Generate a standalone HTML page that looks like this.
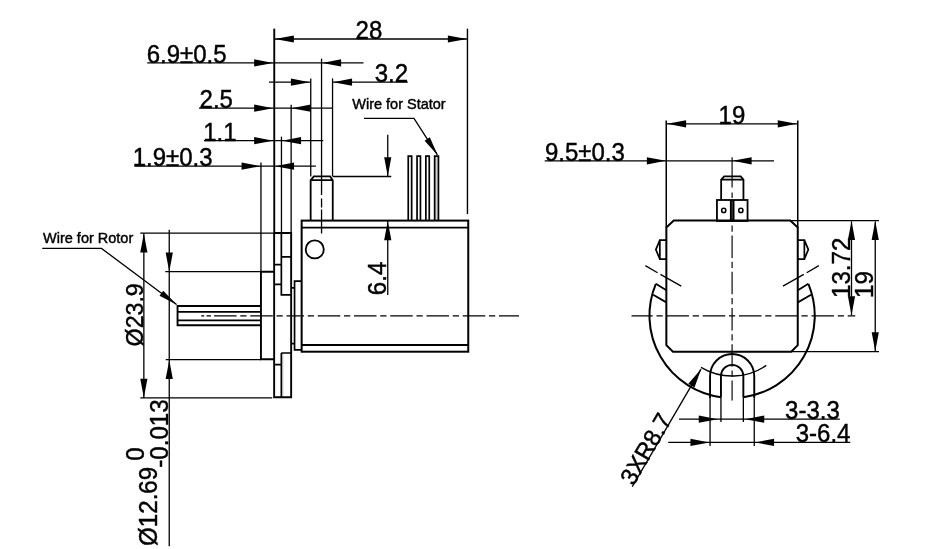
<!DOCTYPE html>
<html><head><meta charset="utf-8"><title>drawing</title>
<style>
html,body{margin:0;padding:0;background:#fff;}
svg{display:block;filter:grayscale(1);}
text{font-family:"Liberation Sans",sans-serif;fill:#000;stroke:#000;stroke-width:0.42px;}
</style></head><body>
<svg width="927" height="549" viewBox="0 0 927 549" stroke="#000" fill="none">
<rect x="0" y="0" width="927" height="549" fill="#fff" stroke="none"/>
<g transform="translate(0.25 0.4)">
<line x1="274" y1="28.25" x2="274" y2="232.6" stroke-width="1.9" />
<line x1="467.2" y1="28.25" x2="467.2" y2="213.75" stroke-width="1.4" />
<line x1="274" y1="38.6" x2="467" y2="38.6" stroke-width="1.3" />
<polygon points="274.60,38.60 293.60,35.00 293.60,42.20" fill="#000" stroke="none"/>
<polygon points="466.60,38.60 447.60,42.20 447.60,35.00" fill="#000" stroke="none"/>
<text x="0" y="0" font-size="24.0" transform="translate(355.3 38.6) scale(1.0 1.04)" >28</text>
<line x1="147" y1="62.5" x2="363.25" y2="62.5" stroke-width="1.3" />
<polygon points="272.90,62.50 253.90,66.10 253.90,58.90" fill="#000" stroke="none"/>
<polygon points="321.90,62.50 340.90,58.90 340.90,66.10" fill="#000" stroke="none"/>
<text x="0" y="0" font-size="24.0" transform="translate(146.5 62.5) scale(1.0 1.04)" >6.9±0.5</text>
<line x1="321.3" y1="58.25" x2="321.3" y2="176" stroke-width="1.3" />
<line x1="268.75" y1="81.75" x2="310.5" y2="81.75" stroke-width="1.3" />
<polygon points="309.60,81.75 290.60,85.35 290.60,78.15" fill="#000" stroke="none"/>
<line x1="332.5" y1="81.75" x2="407.5" y2="81.75" stroke-width="1.3" />
<polygon points="332.80,81.75 351.80,78.15 351.80,85.35" fill="#000" stroke="none"/>
<text x="0" y="0" font-size="24.0" transform="translate(374.5 81.8) scale(1.0 1.04)" >3.2</text>
<line x1="310.5" y1="78" x2="310.5" y2="176" stroke-width="1.3" />
<line x1="332.3" y1="78" x2="332.3" y2="176" stroke-width="1.3" />
<line x1="198.75" y1="107.75" x2="332.3" y2="107.75" stroke-width="1.3" />
<polygon points="272.90,107.75 253.90,111.35 253.90,104.15" fill="#000" stroke="none"/>
<polygon points="291.40,107.75 310.40,104.15 310.40,111.35" fill="#000" stroke="none"/>
<text x="0" y="0" font-size="24.0" transform="translate(199.3 107.8) scale(1.0 1.04)" >2.5</text>
<line x1="290.9" y1="104.25" x2="290.9" y2="232.6" stroke-width="1.3" />
<line x1="203.75" y1="140.25" x2="323" y2="140.25" stroke-width="1.3" />
<polygon points="272.90,140.25 253.90,143.85 253.90,136.65" fill="#000" stroke="none"/>
<polygon points="281.80,140.25 300.80,136.65 300.80,143.85" fill="#000" stroke="none"/>
<text x="0" y="0" font-size="24.0" transform="translate(203 140.2) scale(1.0 1.04)" >1.1</text>
<line x1="281.2" y1="136.25" x2="281.2" y2="232.6" stroke-width="1.3" />
<line x1="134.25" y1="165.75" x2="315.6" y2="165.75" stroke-width="1.3" />
<polygon points="260.30,165.75 241.30,169.35 241.30,162.15" fill="#000" stroke="none"/>
<polygon points="274.80,165.75 293.80,162.15 293.80,169.35" fill="#000" stroke="none"/>
<text x="0" y="0" font-size="24.0" transform="translate(132.5 165.8) scale(1.0 1.04)" >1.9±0.3</text>
<line x1="260.7" y1="162" x2="260.7" y2="271.3" stroke-width="1.3" />
<text x="0" y="0" font-size="14.5" transform="translate(352 109.0) scale(1.0 1.04)"  stroke-width="0.12">Wire for Stator</text>
<path d="M363.75,118 H413.75 L437.2,154.5" stroke-width="1.3" fill="none" />
<polygon points="437.40,154.80 424.36,140.23 429.58,136.88" fill="#000" stroke="none"/>
<line x1="387.5" y1="134.4" x2="387.5" y2="175.5" stroke-width="1.3" />
<polygon points="387.50,175.80 383.90,156.80 391.10,156.80" fill="#000" stroke="none"/>
<line x1="332.5" y1="176.1" x2="391" y2="176.1" stroke-width="1.3" />
<line x1="387.5" y1="220.5" x2="387.5" y2="294.5" stroke-width="1.3" />
<polygon points="387.50,220.80 391.10,239.80 383.90,239.80" fill="#000" stroke="none"/>
<text x="0" y="0" font-size="24.1" transform="translate(386 294.8) rotate(-90) scale(1.0 1.04)" >6.4</text>
<path d="M310.4,220 V179.8 L313.6,176 H329.9 L332.5,179.8 V220 M310.4,179.8 H332.5" stroke-width="1.8" fill="none" />
<line x1="321.3" y1="176" x2="321.3" y2="233" stroke-width="1.3" stroke-dasharray="18.5 3.5 9 2 0 0 30"/>
<path d="M408.0,220 V155.7 H411.4 V220" stroke-width="1.7" fill="none" />
<path d="M416.8,220 V155.7 H420.2 V220" stroke-width="1.7" fill="none" />
<path d="M425.6,220 V155.7 H429.0 V220" stroke-width="1.7" fill="none" />
<path d="M434.4,220 V155.7 H438.2 V220" stroke-width="1.7"  fill="#d4d4d4"/>
<rect x="301.4" y="220.2" width="166.6" height="131.1" fill="none" stroke-width="2.0"/>
<line x1="301.4" y1="227.2" x2="468" y2="227.2" stroke-width="1.8" />
<line x1="301.4" y1="344.6" x2="468" y2="344.6" stroke-width="1.8" />
<circle cx="314.5" cy="249" r="9.05" fill="none" stroke-width="1.8"/>
<path d="M273.9,271.3 H260.7 V358.9 H273.9" stroke-width="1.9" fill="none" />
<line x1="165" y1="271.3" x2="260.7" y2="271.3" stroke-width="1.3" />
<line x1="165.5" y1="359.2" x2="260.7" y2="359.2" stroke-width="1.3" />
<path d="M273.9,232.6 H290.9 V396.8 H273.9 V232.6" stroke-width="1.9" fill="none" />
<line x1="140" y1="232.8" x2="273.9" y2="232.8" stroke-width="1.3" />
<line x1="140" y1="397.5" x2="272" y2="397.5" stroke-width="1.3" />
<path d="M281.1,232.6 V294.5 H290.9 M281.1,352.6 V396.8 M281.1,352.6 H290.9" stroke-width="1.7" fill="none" />
<path d="M273.9,264.3 H281.1 M273.9,284 H281.1 M273.9,364.2 H281.1 M281.1,256.5 H290.9" stroke-width="1.7" fill="none" />
<line x1="282.6" y1="354" x2="282.6" y2="396" stroke-width="0.8" stroke-dasharray="1 1" stroke="#666"/>
<path d="M290.9,287.5 H294.3 M290.9,343.2 H294.3 M301.4,280.7 H294.3 V349.5 H301.4" stroke-width="1.7" fill="none" />
<path d="M260.7,305.6 H177.3 V324.8 H260.7" stroke-width="1.9" fill="none" />
<line x1="177.3" y1="311.4" x2="260.7" y2="311.4" stroke-width="1.8" />
<line x1="177.3" y1="319.9" x2="260.7" y2="319.9" stroke-width="1.8" />
<line x1="201" y1="315.4" x2="300" y2="315.4" stroke-width="1.15" stroke-dasharray="3 2.3 4.5 3 22.5 3.75 6.25 3.75 22.5 3.75 6.25 3.75 22.5 3.75 6.25 3.75"/>
<line x1="300" y1="315.4" x2="518.75" y2="315.4" stroke-width="1.15" stroke-dasharray="22.5 3.75 6.25 3.75" stroke-dashoffset="18.75"/>
<line x1="143.6" y1="233" x2="143.6" y2="397.5" stroke-width="1.3" />
<polygon points="143.60,233.00 147.20,252.00 140.00,252.00" fill="#000" stroke="none"/>
<polygon points="143.60,397.30 140.00,378.30 147.20,378.30" fill="#000" stroke="none"/>
<text x="0" y="0" font-size="23.2" transform="translate(142.3 346) rotate(-90) scale(1.0 1.04)" >Ø23.9</text>
<line x1="169" y1="229.25" x2="169" y2="545.75" stroke-width="1.3" />
<polygon points="169.00,271.00 165.40,252.00 172.60,252.00" fill="#000" stroke="none"/>
<polygon points="169.00,359.50 172.60,378.50 165.40,378.50" fill="#000" stroke="none"/>
<text x="0" y="0" font-size="24.1" transform="translate(156.3 545.5) rotate(-90) scale(1.0 1.04)" >Ø12.69</text>
<text x="0" y="0" font-size="24.1" transform="translate(143.8 460.4) rotate(-90) scale(1.0 1.04)" >0</text>
<text x="0" y="0" font-size="24.1" transform="translate(168 467.3) rotate(-90) scale(1.0 1.04)" >-0.013</text>
<text x="0" y="0" font-size="14.5" transform="translate(42.8 242.3) scale(1.0 1.04)"  stroke-width="0.12">Wire for Rotor</text>
<path d="M42,248 H101.25 L176.3,304.2" stroke-width="1.3" fill="none" />
<polygon points="176.60,304.40 159.29,295.32 163.00,290.36" fill="#000" stroke="none"/>
<line x1="666" y1="120" x2="666" y2="227" stroke-width="1.5" />
<line x1="797.5" y1="120" x2="797.5" y2="227" stroke-width="1.5" />
<line x1="666" y1="123.4" x2="797.5" y2="123.4" stroke-width="1.3" />
<polygon points="666.90,123.40 685.90,119.80 685.90,127.00" fill="#000" stroke="none"/>
<polygon points="796.50,123.40 777.50,127.00 777.50,119.80" fill="#000" stroke="none"/>
<text x="0" y="0" font-size="24.0" transform="translate(718.3 123.5) scale(1.0 1.04)" >19</text>
<line x1="544.5" y1="160.4" x2="773.75" y2="160.4" stroke-width="1.3" />
<polygon points="665.60,160.40 646.60,164.00 646.60,156.80" fill="#000" stroke="none"/>
<polygon points="732.40,160.40 751.40,156.80 751.40,164.00" fill="#000" stroke="none"/>
<text x="0" y="0" font-size="24.0" transform="translate(544.7 160.4) scale(1.0 1.04)" >9.5±0.3</text>
<line x1="731.85" y1="156.75" x2="731.85" y2="187" stroke-width="1.15" />
<line x1="731.85" y1="192" x2="731.85" y2="197.5" stroke-width="1.15" />
<line x1="731.85" y1="199.6" x2="731.85" y2="400" stroke-width="1.15" stroke-dasharray="22.5 3.75 6.25 3.75" stroke-dashoffset="0.85"/>
<line x1="631.3" y1="315.4" x2="855" y2="315.4" stroke-width="1.15" stroke-dasharray="22.5 3.75 6.25 3.75" stroke-dashoffset="1.325"/>
<path d="M720.9,199.6 V179.3 L724,176 H740.4 L743.2,179.3 V199.6 M720.9,179.3 H743.2" stroke-width="1.8" fill="none" />
<rect x="716.7" y="199.6" width="30.6" height="21" fill="none" stroke-width="1.8"/>
<line x1="730.6" y1="199.6" x2="730.6" y2="221" stroke-width="1.9" />
<line x1="733.3" y1="199.6" x2="733.3" y2="221" stroke-width="1.9" />
<circle cx="723.5" cy="210" r="2.1" fill="none" stroke-width="1.5"/>
<circle cx="740.6" cy="210" r="2.1" fill="none" stroke-width="1.5"/>
<path d="M666.1,227 L673.5,220.2 H790 L797.5,227 V344.8 L791,351.4 H672.7 L666.1,344.8 Z" stroke-width="2.0" fill="none" />
<line x1="790" y1="220.2" x2="878.75" y2="220.2" stroke-width="1.3" />
<line x1="791" y1="351.3" x2="878.75" y2="351.3" stroke-width="1.3" />
<line x1="851.25" y1="221" x2="851.25" y2="314.7" stroke-width="1.3" />
<polygon points="851.25,220.70 854.85,239.70 847.65,239.70" fill="#000" stroke="none"/>
<polygon points="851.25,314.80 847.65,295.80 854.85,295.80" fill="#000" stroke="none"/>
<text x="0" y="0" font-size="24.1" transform="translate(849.6 297.6) rotate(-90) scale(1.0 1.04)" >13.72</text>
<line x1="875" y1="221" x2="875" y2="351" stroke-width="1.3" />
<polygon points="875.00,220.70 878.60,239.70 871.40,239.70" fill="#000" stroke="none"/>
<polygon points="875.00,350.90 871.40,331.90 878.60,331.90" fill="#000" stroke="none"/>
<text x="0" y="0" font-size="24.1" transform="translate(873 297.6) rotate(-90) scale(1.0 1.04)" >19</text>
<path d="M666.1,239.8 H659.6 V258.7 H666.1 M659.6,239.8 L655.6,249.2 L659.6,258.7" stroke-width="1.7" fill="none" />
<path d="M797.6,239.8 H804.1 V258.7 H797.6 M804.1,239.8 L808.1,249.2 L804.1,258.7" stroke-width="1.7" fill="none" />
<path d="M645.1,265.2 L657.3,272.3 M660.2,274 L681,285.7" stroke-width="1.3" fill="none" />
<path d="M818.6,265.2 L806.4,272.3 M803.5,274 L782.7,285.7" stroke-width="1.3" fill="none" />
<path d="M655.6,283.4 L666.1,289.8 M652.9,294.4 L666.1,302" stroke-width="1.8" fill="none" />
<path d="M808.1,283.4 L797.6,289.8 M810.8,294.4 L797.6,302" stroke-width="1.8" fill="none" />
<path d="M655.6,283.4 A82.3,82.3 0 0 0 720.8,396.8" stroke-width="2.0" fill="none" />
<path d="M743.1,396.8 A82.3,82.3 0 0 0 808.1,283.4" stroke-width="2.0" fill="none" />
<path d="M709.8,397.5 V375.7 A22.1,22.1 0 0 1 754,375.7 V397.5" stroke-width="1.9" fill="none" />
<path d="M720.7,397 V375.7 A11.2,11.2 0 0 1 743.1,375.7 V397" stroke-width="1.9" fill="none" />
<line x1="709.8" y1="397" x2="709.8" y2="445.5" stroke-width="1.3" />
<line x1="754" y1="397" x2="754" y2="445.5" stroke-width="1.3" />
<line x1="720.7" y1="397" x2="720.7" y2="421.5" stroke-width="1.3" />
<line x1="743.1" y1="397" x2="743.1" y2="421.5" stroke-width="1.3" />
<path d="M700.75,367 A60.4,60.4 0 0 0 766.05,365" stroke-width="1.3" fill="none" />
<line x1="632" y1="486.25" x2="700.75" y2="368.75" stroke-width="1.3" />
<polygon points="700.90,368.50 694.27,386.98 688.05,383.35" fill="#000" stroke="none"/>
<text x="0" y="0" font-size="23.2" transform="translate(633.2 486.0) rotate(-59.7) scale(1.0 1.04)" >3XR8.7</text>
<line x1="678.75" y1="418.75" x2="839.5" y2="418.75" stroke-width="1.3" />
<polygon points="717.50,418.75 698.50,422.35 698.50,415.15" fill="#000" stroke="none"/>
<polygon points="745.00,418.75 764.00,415.15 764.00,422.35" fill="#000" stroke="none"/>
<text x="0" y="0" font-size="24.0" transform="translate(784.8 418.8) scale(1.0 1.04)" >3-3.3</text>
<line x1="668" y1="442.0" x2="850" y2="442.0" stroke-width="1.3" />
<polygon points="709.20,442.00 690.20,445.60 690.20,438.40" fill="#000" stroke="none"/>
<polygon points="754.80,442.00 773.80,438.40 773.80,445.60" fill="#000" stroke="none"/>
<text x="0" y="0" font-size="24.0" transform="translate(795.5 442.0) scale(1.0 1.04)" >3-6.4</text>
</g>
</svg>
</body></html>
